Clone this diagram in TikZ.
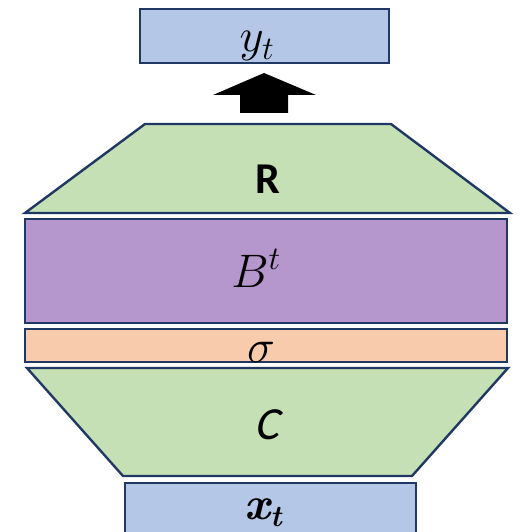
\RequirePackage{fix-cm}
\documentclass[tikz,border=0pt]{standalone}
\usepackage{fontspec}
\newfontfamily\carlito{Carlito}
\newfontfamily\carlitoit[FakeSlant=0.22]{Carlito}
\definecolor{edge}{HTML}{1F3864}
\definecolor{bluef}{HTML}{B4C7E7}
\definecolor{greenf}{HTML}{C5E0B4}
\definecolor{purplef}{HTML}{B597CE}
\definecolor{orangef}{HTML}{F8CBAD}
\tikzset{
  blk/.style={draw=edge, line width=2.4pt, line join=miter},
  lbl/.style={inner sep=0pt, anchor=base},
}
\begin{document}
\begin{tikzpicture}[x=1pt,y=-1pt]
\useasboundingbox (0,0) rectangle (520,532);
% output box
\filldraw[blk, fill=bluef] (140,9) rectangle (389,63);
\node[lbl] (yt) at (257,52) {\fontsize{47}{52}\selectfont $y_t$};
% block arrow
\fill[black] (264,73) -- (316,95) -- (288,95) -- (288,113) -- (240,113) -- (240,95) -- (213,95) -- cycle;
% R trapezoid
\filldraw[blk, fill=greenf] (145,124) -- (391,124) -- (510,213) -- (25,213) -- cycle;
\node[lbl] (R) at (268,193) {\fontsize{44}{50}\selectfont\carlito\bfseries R};
% B^t
\filldraw[blk, fill=purplef] (25,219) rectangle (507,323);
\node[lbl] (B) at (256,287) {\fontsize{47}{52}\selectfont $B^t$};
% sigma
\filldraw[blk, fill=orangef] (25,329) rectangle (507,362);
\node[lbl] (s) at (261,362) {\fontsize{47}{52}\selectfont $\sigma$};
% C trapezoid
\filldraw[blk, fill=greenf] (27,368) -- (508,368) -- (412,476) -- (123,476) -- cycle;
\node[lbl] (C) at (267,439) {\fontsize{46}{50}\selectfont\carlitoit C};
% input box
\filldraw[blk, fill=bluef] (125,483) rectangle (416,534);
\node[lbl] (xt) at (263,519) {\fontsize{46}{50}\selectfont\bfseries\itshape x\raisebox{-7pt}{\fontsize{30}{30}\selectfont t}};
\end{tikzpicture}
\end{document}
